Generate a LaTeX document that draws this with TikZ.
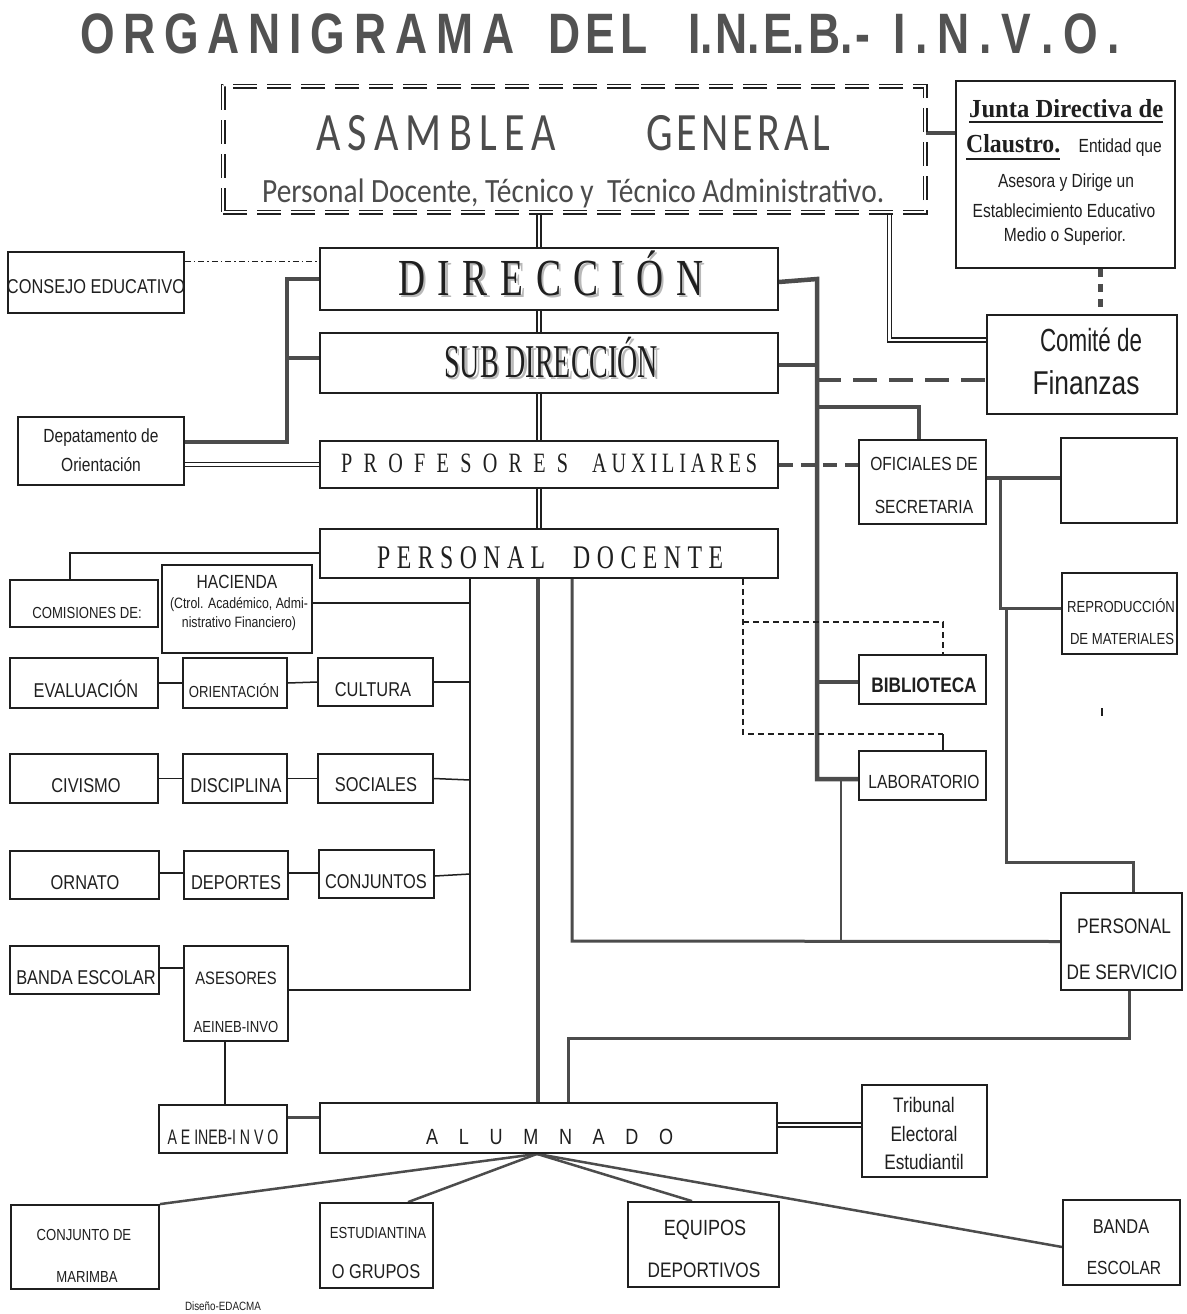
\documentclass[tikz,border=0pt]{standalone}
\usepackage{fontspec}
\usepackage{graphicx}
\setmainfont{Liberation Sans}
\newfontfamily\nar[FakeStretch=0.82]{Liberation Sans}
\newfontfamily\titf[FakeStretch=0.78]{Liberation Sans}
\newfontfamily\sern[FakeStretch=0.72]{Liberation Serif}
\newfontfamily\jser[FakeStretch=0.85]{Liberation Serif}
\newfontfamily\hand{Carlito}
\newfontfamily\handn[FakeStretch=0.78]{Carlito}
\usetikzlibrary{calc,fit}
\pgfdeclarelayer{bg}
\pgfsetlayers{bg,main}
\definecolor{ink}{gray}{0.12}
\definecolor{ink2}{gray}{0.3}
\definecolor{ttl}{gray}{0.32}
\newcommand\fs[1]{\fontsize{#1}{#1}\selectfont}
\newcommand\fitw[2]{\resizebox{#1pt}{\height}{#2}}
\newcommand\bxn[5]{\node[bx, fit={(#2,#3) (#4,#5)}] (#1) {};}
\newcommand\lb[4]{\node[lbl] (#1) at (#2,#3) {#4};}
\newcommand\dirtxt{\sern\fs{52}\makebox[305pt][s]{D\hfill I\hfill R\hfill E\hfill C\hfill C\hfill I\hfill Ó\hfill N}}
\newcommand\subtxt{\sern\fs{47}\fitw{214}{SUB DIRECCIÓN}}
\tikzset{
  bx/.style={draw=ink, line width=1.8pt, fill=white, inner sep=0pt},
  lbl/.style={inner sep=0pt, text=ink, anchor=center},
  thk/.style={draw=ink2, line width=4.5pt},
  med/.style={draw=ink2, line width=3pt},
  thn/.style={draw=ink, line width=1.5pt},
  thnb/.style={draw=ink2, line width=2.2pt},
  dbl/.style={draw=ink, double=white, double distance=2.8pt, line width=1.5pt},
  thkdash/.style={draw=ink2, line width=4.5pt, dash pattern=on 24pt off 12pt},
  meddash/.style={draw=ink2, line width=3.5pt, dash pattern=on 14pt off 8pt},
  thndash/.style={draw=ink, line width=1.4pt, dash pattern=on 6pt off 4pt},
  dashdot/.style={draw=ink, line width=1.2pt, dash pattern=on 6pt off 3pt on 1.5pt off 3pt},
  dots/.style={draw=ink2, line width=5pt, dash pattern=on 8pt off 7pt},
  fanl/.style={draw=ink2, line width=2.5pt},
}
\begin{document}
\begin{tikzpicture}[x=1pt,y=-1pt]
\useasboundingbox (0,0) rectangle (1186,1314);
\coordinate (cx) at (539,0);
\coordinate (cx2) at (889.5,0);
% title
\node[lbl, anchor=base west, text=ttl] (t1) at (80,54) {\titf\bfseries\fs{57}\makebox[434pt][s]{O\hfill R\hfill G\hfill A\hfill N\hfill I\hfill G\hfill R\hfill A\hfill M\hfill A}};
\node[lbl, anchor=base west, text=ttl] (t2) at (548,54) {\titf\bfseries\fs{57}\makebox[99pt][s]{D\hfill E\hfill L}};
\node[lbl, anchor=base west, text=ttl] (t3) at (688,54) {\titf\bfseries\fs{57}\makebox[182pt][s]{I.\hfill N.\hfill E.\hfill B.\hfill -}};
\node[lbl, anchor=base west, text=ttl] (t4) at (893,54) {\titf\bfseries\fs{57}\makebox[227pt][s]{I\hfill .\hfill N\hfill .\hfill V\hfill .\hfill O\hfill .}};
% asamblea
\node[fit={(223,86) (925,212)}, inner sep=0pt, fill=white, draw=ink, double=white, double distance=2.6pt, line width=1.2pt, dash pattern=on 24pt off 10pt] (asam) {};
\node[lbl, anchor=base west, text=ink2] (asT1) at (316,150) {\handn\fs{54}\makebox[240pt][s]{A\hfill S\hfill A\hfill M\hfill B\hfill L\hfill E\hfill A}};
\node[lbl, anchor=base west, text=ink2] (asT2) at (646,150) {\handn\fs{54}\makebox[184pt][s]{G\hfill E\hfill N\hfill E\hfill R\hfill A\hfill L}};
\node[lbl, anchor=base west, text=ink2] (asT3) at (262,202) {\hand\fs{34}\fitw{622}{Personal Docente, Técnico y\ \ Técnico Administrativo.}};
% junta
\bxn{junta}{956}{81}{1175}{268}
\node[lbl, anchor=base west] (jT1) at (969,117) {\jser\bfseries\fs{26}\fitw{194}{Junta Directiva de}};
\draw[ink, line width=1.5pt] ($(jT1.base west)+(0,5)$) -- ($(jT1.base east)+(0,5)$);
\node[lbl, anchor=base west] (jT2) at (966,152) {\jser\bfseries\fs{26}\fitw{94}{Claustro.}};
\draw[ink, line width=1.5pt] ($(jT2.base west)+(0,7)$) -- ($(jT2.base east)+(0,7)$);
\node[lbl, anchor=base east] (jT3) at (1162,152) {\nar\fs{19}Entidad que};
\lb{jT4}{1066}{183}{\nar\fs{19}Asesora y Dirige un}
\lb{jT5}{1064}{211}{\nar\fs{19}Establecimiento Educativo}
\lb{jT6}{1065}{237}{\nar\fs{19}Medio o Superior.}
% comite
\bxn{comite}{987}{315}{1177}{414}
\lb{comT1}{1091}{340}{\nar\fs{32}\fitw{102}{Comité de}}
\lb{comT2}{1086}{383}{\nar\fs{33}\fitw{107}{Finanzas}}
% central column
\bxn{dir}{320}{248}{778}{310}
\node[lbl, anchor=base west, text=gray!55] (dirS) at (400.5,297.5) {\dirtxt};
\node[lbl, anchor=base west] (dirT) at (398,295) {\dirtxt};
\bxn{sub}{320}{333}{778}{393}
\node[lbl, anchor=base west, text=gray!55] (subS) at (446.5,379.5) {\subtxt};
\node[lbl, anchor=base west] (subT) at (444,377) {\subtxt};
\bxn{prof}{320}{441}{778}{488}
\node[lbl, anchor=base west] (profT1) at (341,472) {\sern\fs{28}\makebox[227pt][s]{P\hfill R\hfill O\hfill F\hfill E\hfill S\hfill O\hfill R\hfill E\hfill S}};
\node[lbl, anchor=base west] (profT2) at (592,472) {\sern\fs{28}\makebox[165pt][s]{A\hfill U\hfill X\hfill I\hfill L\hfill I\hfill A\hfill R\hfill E\hfill S}};
\bxn{pdoc}{320}{529}{778}{578}
\node[lbl, anchor=base west] (pdocT1) at (377,568) {\sern\fs{33}\makebox[168pt][s]{P\hfill E\hfill R\hfill S\hfill O\hfill N\hfill A\hfill L}};
\node[lbl, anchor=base west] (pdocT2) at (573,568) {\sern\fs{33}\makebox[150pt][s]{D\hfill O\hfill C\hfill E\hfill N\hfill T\hfill E}};
% left upper
\bxn{consejo}{8}{252}{184}{313}
\lb{consejoT}{96}{287}{\nar\fs{20}\fitw{178}{CONSEJO EDUCATIVO}}
\bxn{depto}{18}{417}{184}{485}
\lb{deptoT1}{101}{438}{\nar\fs{19}Depatamento de}
\lb{deptoT2}{101}{465}{\nar\fs{19}Orientación}
% right boxes
\bxn{ofic}{859}{440}{986}{524}
\lb{oficT1}{924}{464}{\nar\fs{19}OFICIALES DE}
\lb{oficT2}{924}{507}{\nar\fs{19}SECRETARIA}
\bxn{blank}{1061}{438}{1177}{523}
\bxn{repro}{1062}{573}{1177}{654}
\lb{reproT1}{1121}{606}{\nar\fs{16}REPRODUCCIÓN}
\lb{reproT2}{1122}{639}{\nar\fs{16}DE MATERIALES}
\bxn{biblio}{859}{655}{986}{704}
\lb{biblioT}{924}{685}{\nar\bfseries\fs{21}BIBLIOTECA}
\bxn{lab}{859}{751}{986}{800}
\lb{labT}{924}{782}{\nar\fs{19}LABORATORIO}
\bxn{pds}{1061}{893}{1182}{990}
\lb{pdsT1}{1124}{926}{\nar\fs{21}PERSONAL}
\lb{pdsT2}{1122}{972}{\nar\fs{21}DE SERVICIO}
% left comisiones
\bxn{comis}{10}{580}{158}{627}
\lb{comisT}{87}{613}{\nar\fs{16}COMISIONES DE:}
\bxn{hac}{162}{565}{312}{653}
\lb{hacT1}{237}{582}{\nar\fs{19}HACIENDA}
\lb{hacT2}{239}{605}{\nar\fs{15}(Ctrol. Académico, Admi-}
\lb{hacT3}{239}{624}{\nar\fs{15}nistrativo Financiero)}
\bxn{eval}{10}{658}{158}{708}
\lb{evalT}{86}{689}{\nar\fs{20}EVALUACIÓN}
\bxn{orient}{183}{658}{287}{708}
\lb{orientT}{234}{691}{\nar\fs{16}ORIENTACIÓN}
\bxn{cult}{318}{658}{433}{706}
\lb{cultT}{373}{690}{\nar\fs{20}CULTURA}
\bxn{civ}{10}{754}{158}{803}
\lb{civT}{86}{786}{\nar\fs{20}CIVISMO}
\bxn{disc}{183}{754}{287}{803}
\lb{discT}{236}{786}{\nar\fs{20}DISCIPLINA}
\bxn{soc}{318}{754}{433}{803}
\lb{socT}{376}{785}{\nar\fs{20}SOCIALES}
\bxn{orn}{10}{851}{159}{899}
\lb{ornT}{85}{883}{\nar\fs{20}ORNATO}
\bxn{dep}{184}{851}{288}{899}
\lb{depT}{236}{883}{\nar\fs{20}DEPORTES}
\bxn{conj}{319}{850}{434}{898}
\lb{conjT}{376}{882}{\nar\fs{20}CONJUNTOS}
\bxn{banda}{10}{946}{159}{994}
\lb{bandaT}{86}{978}{\nar\fs{20}BANDA ESCOLAR}
\bxn{ases}{184}{946}{288}{1041}
\lb{asesT1}{236}{978}{\nar\fs{18}ASESORES}
\lb{asesT2}{236}{1027}{\nar\fs{16}AEINEB-INVO}
% alumnado row
\bxn{aeineb}{159}{1105}{287}{1153}
\node[lbl, anchor=base] (aeinebT) at (223,1144) {\nar\fs{21}\fitw{111}{A E INEB-I N V O}};
\bxn{alum}{320}{1103}{777}{1153}
\node[lbl, anchor=base west] (alumT) at (426,1144) {\nar\fs{22}\makebox[247pt][s]{A\hfill L\hfill U\hfill M\hfill N\hfill A\hfill D\hfill O}};
\bxn{trib}{862}{1085}{987}{1177}
\lb{tribT1}{924}{1105}{\nar\fs{21}Tribunal}
\lb{tribT2}{924}{1134}{\nar\fs{21}Electoral}
\lb{tribT3}{924}{1162}{\nar\fs{21}Estudiantil}
% bottom row
\bxn{marimba}{11}{1205}{159}{1289}
\lb{marT1}{84}{1235}{\nar\fs{16}CONJUNTO DE}
\lb{marT2}{87}{1277}{\nar\fs{16}MARIMBA}
\bxn{estud}{320}{1203}{433}{1288}
\lb{estT1}{378}{1233}{\nar\fs{16}ESTUDIANTINA}
\lb{estT2}{376}{1272}{\nar\fs{20}O GRUPOS}
\bxn{equip}{628}{1202}{779}{1287}
\lb{eqT1}{705}{1230}{\nar\fs{22}EQUIPOS}
\lb{eqT2}{704}{1270}{\nar\fs{21}DEPORTIVOS}
\bxn{bandab}{1063}{1200}{1180}{1285}
\lb{bbT1}{1121}{1227}{\nar\fs{20}BANDA}
\lb{bbT2}{1124}{1268}{\nar\fs{19}ESCOLAR}
\lb{disT}{223}{1306}{\nar\fs{12}Diseño-EDACMA}
% connectors
\begin{pgfonlayer}{bg}
\fill[white] (0,0) rectangle (1186,1314);
\draw[dbl] (asam.south -| cx) -- (pdoc.north -| cx);
\coordinate (ccom) at ($(comite.west)+(0,-24.5)$);
\draw[dbl] (asam.south -| cx2) -- (cx2 |- ccom) -- (ccom);
\draw[thk] ($(asam.east)+(0,-16)$) -- ($(junta.west)+(0,-41.5)$);
\draw[dots] ($(junta.south)+(34.5,0)$) -- ($(comite.north)+(18,0)$);
\draw[dashdot] ($(consejo.north east)+(0,10)$) -- ($(dir.north west)+(0,14)$);
\draw[thk] ($(depto.east)+(0,-9)$) -- (287,442) -- (287,279) -- (dir.west);
\draw[thk] (287,358) -- ($(sub.west)+(0,-5)$);
\draw[dbl] ($(depto.east)+(0,13.5)$) -- (prof.west);
\draw[thk] ($(dir.east)+(0,3)$) -- (817,279) -- (817,779) -- ($(lab.west)+(0,3.5)$);
\draw[thk] ($(sub.east)+(0,2)$) -- (817,365);
\draw[thk] (817,682) -- ($(biblio.west)+(0,2.5)$);
\draw[thkdash] (817,380) -- ($(comite.west)+(0,15.5)$);
\draw[thk] (817,407) -- (919,407) -- ($(ofic.north)+(-3.5,0)$);
\draw[meddash] ($(prof.east)+(0,0.5)$) -- ($(ofic.west)+(0,-17)$);
\draw[thk] ($(ofic.east)+(0,-4)$) -- ($(blank.west)+(0,-2.5)$);
\draw[med] (1000,478) -- (1000,608) -- ($(repro.west)+(0,-5.5)$);
\draw[med] (1006,608) -- (1006,862) -- (1133,862) -- ($(pds.north)+(11.5,0)$);
\draw[thndash] ($(pdoc.south)+(194,0)$) -- (743,734) -- (943,734);
\draw[thndash] (743,622) -- (943,622) -- ($(biblio.north)+(20.5,0)$);
\draw[thn] (943,734) -- ($(lab.north)+(20.5,0)$);
\draw[med] ($(pdoc.south)+(23,0)$) -- (572,941) -- (pds.west);
\draw[thnb] (841,779) -- (841,941);
\draw[thn] ($(pdoc.west)+(0,-0.5)$) -- (70,553) -- ($(comis.north)+(-14,0)$);
\draw[thn] ($(pdoc.south)+(-79,0)$) -- (470,990) -- ($(ases.east)+(0,-3.5)$);
\draw[thn] ($(hac.east)+(0,-6)$) -- (470,603);
\draw[thn] (cult.east) -- (470,682);
\draw[thn] (soc.east) -- (470,780);
\draw[thn] ($(conj.east)+(0,2)$) -- (470,874);
\draw[thn] (eval.east) -- (orient.west);
\draw[thn] (orient.east) -- (cult.west);
\draw[thn] (civ.east) -- (disc.west);
\draw[thn] (disc.east) -- (soc.west);
\draw[thn] ($(orn.east)+(0,-2)$) -- ($(dep.west)+(0,-2)$);
\draw[thn] ($(dep.east)+(0,-2)$) -- ($(conj.west)+(0,-1)$);
\draw[thn] ($(banda.east)+(0,-2)$) -- ($(ases.west)+(0,-25.5)$);
\draw[thn] ($(ases.south)+(-11,0)$) -- ($(aeineb.north)+(2,0)$);
\draw[med] ($(aeineb.east)+(0,-12)$) -- ($(alum.west)+(0,-11)$);
\draw[thk] ($(pdoc.south)+(-11,0)$) -- ($(alum.north)+(-10.5,0)$);
\draw[med] ($(pds.south)+(7.5,0)$) -- (1129,1038) -- (568,1038) -- ($(alum.north)+(19.5,0)$);
\draw[dbl] ($(alum.east)+(0,-3)$) -- ($(trib.west)+(0,-6)$);
\coordinate (fan) at ($(alum.south)+(-11.5,0)$);
\draw[fanl] (fan) -- (marimba.north east);
\draw[fanl] (fan) -- ($(estud.north)+(31.5,0)$);
\draw[fanl] (fan) -- ($(equip.north)+(-11.5,0)$);
\draw[fanl] (fan) -- ($(bandab.west)+(0,4.5)$);
\draw[thn] (1102,708) -- (1102,716);
\end{pgfonlayer}
\end{tikzpicture}
\end{document}
